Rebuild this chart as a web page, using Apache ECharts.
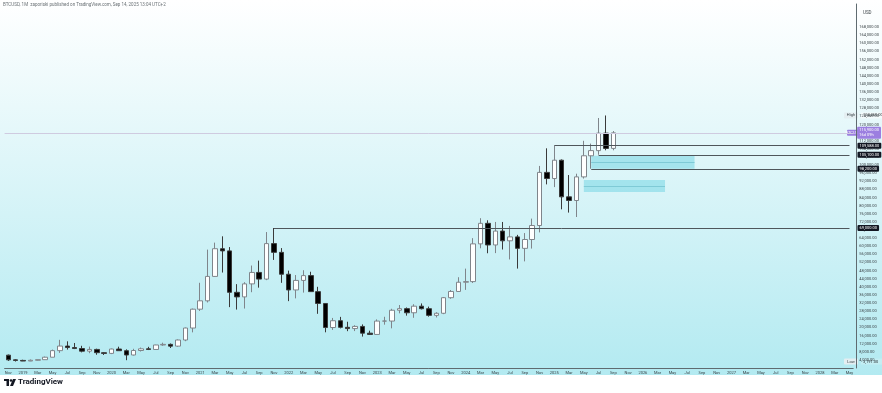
<!DOCTYPE html>
<html>
<head>
<meta charset="utf-8">
<script src="https://cdn.jsdelivr.net/npm/echarts@6/dist/echarts.min.js"></script>
<style>
  html, body { margin:0; padding:0; width:882px; height:393px; overflow:hidden;
    background: linear-gradient(to bottom, #ffffff 0px, #b3eaf1 375px, #ffffff 375px, #ffffff 393px); }
  #c { width:882px; height:393px; }
</style>
</head>
<body>
<div id="c"></div>
<script>
// ---- data (monthly BTCUSD, Nov 2018 .. Sep 2025) ----
const monthNames = ['Jan','Feb','Mar','Apr','May','Jun','Jul','Aug','Sep','Oct','Nov','Dec'];
const startYear = 2018, startMonth = 10, categoryCount = 115;

const opens  = [6343,4017,3742,3437,3818,4103,5321,8555,10818,10083,9600,8300,9155,7550,
  7195,9350,8525,6410,8625,9450,9135,11350,11650,10775,13800,19700,
  28990,33110,45140,58790,57720,37300,35040,41460,47100,43820,61310,57000,
  46210,38470,43170,45530,37640,31800,19950,23300,20050,19430,20490,17170,
  16540,23130,23140,28470,29250,27220,30470,29230,25940,26970,34650,37720,
  42270,42580,61180,71300,60640,67490,62690,64620,58970,63330,70220,96410,
  93380,102420,84350,82550,94190,104600,107140,115760,108230];
const highs  = [6620,4300,4075,4210,4140,5640,9074,13880,13150,12325,10950,10540,9520,7750,
  9578,10500,9190,9470,10080,10430,11450,12480,12080,14100,19950,29300,
  42000,58350,61790,64900,59600,41330,42300,50500,52920,67000,69000,59100,
  47990,45820,48190,47440,40020,31960,24670,25200,22800,21090,21480,18390,
  23960,25250,29190,31050,29840,31430,31820,30250,27480,35000,38430,44740,
  48970,64000,73840,72800,71980,71980,70020,65620,66500,73620,99590,108270,
  109588,102780,95100,95760,111980,110600,123220,124460,116800];
const lows   = [3475,3191,3394,3373,3680,4057,5320,7450,9070,9320,7710,7300,6515,6430,
  6850,8450,3850,6150,8120,8850,8990,10930,9850,10430,13210,17570,
  28130,32300,44950,47050,30000,28800,29300,37350,39600,43300,53260,41970,
  32950,34320,37160,37700,26700,17590,18780,19520,18150,18190,15480,16260,
  16500,21350,19550,26940,25810,24750,28860,25300,24900,26540,34110,37600,
  38500,41880,59000,56550,56620,58400,53500,49000,52550,58860,66830,90500,
  89160,78200,76600,74420,93380,98200,105100,107300,107300];
const closes = [4017,3742,3437,3818,4103,5321,8555,10818,10083,9600,8300,9155,7550,7195,
  9350,8525,6410,8625,9450,9135,11350,11650,10775,13800,19700,28990,
  33110,45140,58790,57720,37300,35040,41460,47100,43820,61310,57000,46210,
  38470,43170,45530,37640,31800,19950,23300,20050,19430,20490,17170,16540,
  23130,23140,28470,29250,27220,30470,29230,25940,26970,34650,37720,42270,
  42580,61180,71300,60640,67490,62690,64620,58970,63330,70220,96410,93380,
  102420,84350,82550,94190,104600,107140,115760,108230,115900];

// horizontal levels drawn on the chart
const levelStarts = ['Nov 2021','Jan 2025','Jul 2025','Jun 2025'];
const levelPrices = [69000, 109588, 105100, 98200];

// shaded zones
const zoneStarts = ['Jun 2025','May 2025'];
const zoneEnds   = ['Aug 2026','Apr 2026'];
const zoneLows   = [98200, 86700];
const zoneHighs  = [104600, 92600];

// y axis ticks
const yMin = 0, yMax = 179400, yStep = 4000, yTopLabel = 168000;

// ---- build ----
const categories = [];
for (let i = 0; i < categoryCount; i++) {
  const m = (startMonth + i) % 12;
  const y = startYear + Math.floor((startMonth + i) / 12);
  categories.push(monthNames[m] + ' ' + y);
}
const candleData = opens.map((o, i) => [o, closes[i], lows[i], highs[i]]);
const lastCat = categories[categories.length - 1];
const lastClose = closes[closes.length - 1];
const fmt = v => Number(v).toLocaleString('en-US', {minimumFractionDigits:2, maximumFractionDigits:2});
const FONT = 'Roboto, "Liberation Sans", sans-serif';

const levelLines = levelPrices.map((p, i) => [
  {coord:[levelStarts[i], p]},
  {coord:[lastCat, p], label:{show:true, position:'end', distance:8, formatter: fmt(p),
     backgroundColor:'#131722', color:'#ffffff', fontSize:4, fontFamily:FONT, padding:[1,2,1,2], borderRadius:1}}
]);
const midLines = zoneLows.map((lo, i) => [
  {coord:[zoneStarts[i], (lo + zoneHighs[i]) / 2]},
  {coord:[zoneEnds[i], (lo + zoneHighs[i]) / 2], lineStyle:{color:'#7fcad6', width:1, type:'solid'}}
]);
const areas = zoneLows.map((lo, i) => [
  {coord:[zoneStarts[i], zoneHighs[i]]},
  {coord:[zoneEnds[i], lo]}
]);

const chart = echarts.init(document.getElementById('c'), null, {renderer:'canvas'});
chart.setOption({
  animation:false,
  grid:{left:4.6, right:25.2, top:4, bottom:25},
  xAxis:{
    type:'category', data:categories, boundaryGap:true,
    axisLine:{show:true, lineStyle:{color:'#5f6b70', width:1}},
    axisTick:{show:false},
    splitLine:{show:false},
    axisLabel:{
      interval:(idx) => idx % 2 === 0,
      fontSize:4, color:'#3b4448', margin:3, fontFamily:FONT,
      formatter:(v) => { const [m, y] = v.split(' '); return m === 'Jan' ? y : m; }
    }
  },
  yAxis:{
    type:'value', position:'right', offset:3, min:yMin, max:yMax, interval:yStep,
    axisLine:{show:true, lineStyle:{color:'#5f6b70', width:1}},
    axisTick:{show:false},
    splitLine:{show:false},
    axisLabel:{
      showMinLabel:false, fontSize:4, color:'#3b4448', margin:3, fontFamily:FONT,
      formatter:(v) => (v > yTopLabel || v === 0) ? '' : fmt(v)
    }
  },
  series:[{
    type:'candlestick',
    data:candleData,
    barWidth:5,
    itemStyle:{
      color:'#ffffff', borderColor:'#7f858b',
      color0:'#000000', borderColor0:'#3a3a3a',
      borderWidth:1
    },
    markArea:{
      silent:true,
      itemStyle:{color:'rgba(118,214,228,0.55)', borderWidth:0},
      data:areas
    },
    markLine:{
      silent:true, symbol:['none','none'],
      lineStyle:{color:'#4f565b', width:1, type:'solid'},
      label:{show:false},
      data:[
        ...levelLines,
        ...midLines,
        {yAxis:lastClose, lineStyle:{color:'#cfcbe0', width:1, type:'solid'},
         label:{show:true, position:'end', distance:4, formatter: fmt(lastClose) + '\n16d 09h',
           backgroundColor:'#9c7fe0', color:'#ffffff', fontSize:4, lineHeight:5, fontFamily:FONT,
           padding:[1,2,1,2], borderRadius:1}}
      ]
    }
  }]
});

// side tags positioned through the axis scale
const maxHigh = Math.max(...highs), minLow = Math.min(...lows);
const yHigh = chart.convertToPixel({yAxisIndex:0}, maxHigh);
const yLow = chart.convertToPixel({yAxisIndex:0}, minLow);
const yLast = chart.convertToPixel({yAxisIndex:0}, lastClose);
const axisX = 860;
function tag(x, y, w, text, bg, fg) {
  return {type:'group', children:[
    {type:'rect', shape:{x:x, y:y-3, width:w, height:6, r:1}, style:{fill:bg}},
    {type:'text', x:x + w/2, y:y, style:{text:text, fill:fg, fontSize:4, fontFamily:FONT, align:'center', verticalAlign:'middle'}}
  ]};
}
chart.setOption({
  graphic:[
    {type:'text', left:3, top:2, style:{text:'BTCUSD, 1M  zaporiski published on TradingView.com, Sep 14, 2025 13:04 UTC+2', fill:'#6a7175', fontSize:4.5, fontFamily:FONT}},
    {type:'text', x:863, y:10, style:{text:'USD', fill:'#3b4448', fontSize:4.5, fontFamily:FONT}},
    tag(axisX - 16, yHigh, 14, 'High', '#e4eef1', '#3b4448'),
    {type:'rect', shape:{x:axisX + 1, y:yHigh - 3, width:21, height:6}, style:{fill:'#f4fbfc'}},
    {type:'text', x:axisX + 3, y:yHigh, style:{text:fmt(maxHigh), fill:'#2a3236', fontSize:4, fontFamily:FONT, verticalAlign:'middle'}},
    tag(axisX - 16, yLow, 14, 'Low', '#e4eef1', '#3b4448'),
    {type:'rect', shape:{x:axisX + 1, y:yLow - 3, width:21, height:6}, style:{fill:'#c4eef3'}},
    {type:'text', x:axisX + 3, y:yLow, style:{text:fmt(minLow), fill:'#2a3236', fontSize:4, fontFamily:FONT, verticalAlign:'middle'}},
    tag(axisX - 13, yLast, 12, 'BTCUSD', '#9c7fe0', '#ffffff'),
    // footer logo
    {type:'group', left:4, top:379, children:[
      {type:'rect', shape:{x:0, y:0, width:5, height:2}, style:{fill:'#131722'}},
      {type:'rect', shape:{x:2.5, y:0, width:2.5, height:7}, style:{fill:'#131722'}},
      {type:'circle', shape:{cx:7, cy:1.5, r:1.3}, style:{fill:'#131722'}},
      {type:'polygon', shape:{points:[[9,0],[12,0],[9,7],[6,7]]}, style:{fill:'#131722'}}
    ]},
    {type:'text', left:18, top:378, style:{text:'TradingView', fill:'#131722', fontSize:8, fontWeight:'bold', fontFamily:FONT}}
  ]
});
</script>
</body>
</html>
